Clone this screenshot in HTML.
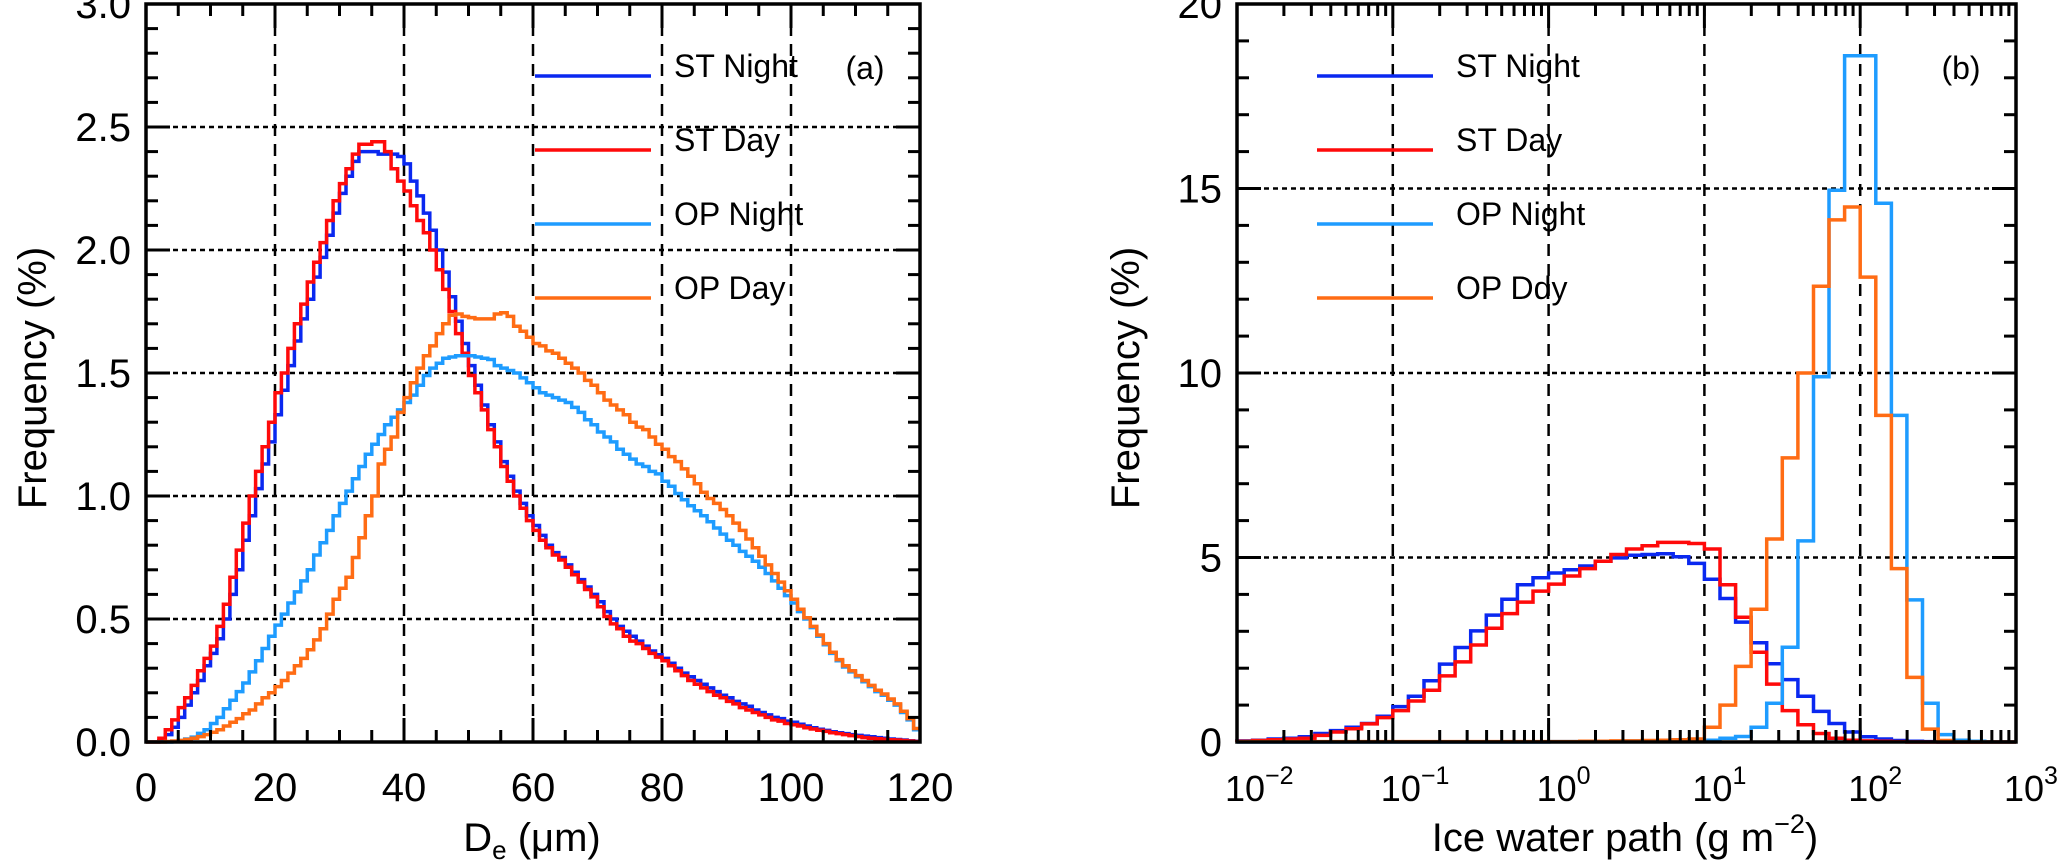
<!DOCTYPE html>
<html><head><meta charset="utf-8"><style>
html,body{margin:0;padding:0;background:#fff;}
svg{display:block;font-family:"Liberation Sans",sans-serif;}
</style></head><body>
<svg id="fig" width="2067" height="863" viewBox="0 0 2067 863" xmlns="http://www.w3.org/2000/svg"></svg>
<script>
// ---------- data: panel (a) D_e histograms, 1 um bins from 0 to 120 ----------
const deBinStart = 0, deBinWidth = 1;
const deSTNight = [0,0,0.005,0.03,0.06,0.1,0.15,0.2,0.25,0.31,0.36,0.42,0.5,0.6,0.7,0.82,0.92,1.03,1.13,1.22,1.33,1.43,1.53,1.63,1.72,1.8,1.89,1.97,2.06,2.15,2.23,2.3,2.36,2.40,2.40,2.40,2.39,2.39,2.39,2.38,2.35,2.28,2.22,2.15,2.08,2.0,1.91,1.81,1.71,1.62,1.53,1.45,1.37,1.29,1.22,1.14,1.08,1.02,0.97,0.92,0.88,0.84,0.8,0.77,0.75,0.72,0.69,0.66,0.63,0.6,0.57,0.53,0.5,0.47,0.45,0.43,0.41,0.39,0.37,0.355,0.34,0.32,0.30,0.28,0.265,0.25,0.235,0.22,0.205,0.19,0.18,0.165,0.155,0.145,0.13,0.12,0.11,0.1,0.095,0.085,0.08,0.072,0.065,0.058,0.052,0.047,0.042,0.038,0.034,0.03,0.027,0.024,0.021,0.018,0.015,0.012,0.01,0.008,0.005,0.003];
const deSTDay = [0,0,0.015,0.05,0.09,0.14,0.18,0.23,0.29,0.34,0.39,0.47,0.56,0.67,0.78,0.89,1.0,1.1,1.2,1.3,1.42,1.5,1.6,1.7,1.78,1.87,1.95,2.03,2.12,2.2,2.27,2.33,2.39,2.43,2.43,2.44,2.44,2.4,2.33,2.28,2.24,2.18,2.12,2.07,2.0,1.92,1.84,1.75,1.66,1.58,1.49,1.42,1.35,1.27,1.2,1.12,1.06,1.0,0.95,0.9,0.86,0.82,0.79,0.76,0.74,0.71,0.68,0.65,0.62,0.59,0.55,0.51,0.48,0.46,0.43,0.41,0.40,0.38,0.36,0.345,0.33,0.31,0.29,0.27,0.25,0.235,0.22,0.205,0.19,0.18,0.165,0.155,0.14,0.13,0.12,0.11,0.10,0.09,0.085,0.075,0.07,0.065,0.058,0.053,0.048,0.043,0.038,0.034,0.03,0.026,0.022,0.018,0.015,0.013,0.011,0.009,0.008,0.006,0.004,0.002];
const deOPNight = [0,0,0,0,0.003,0.006,0.012,0.02,0.035,0.05,0.075,0.1,0.135,0.17,0.205,0.24,0.285,0.33,0.38,0.43,0.475,0.52,0.565,0.61,0.655,0.7,0.76,0.81,0.86,0.92,0.97,1.02,1.07,1.12,1.17,1.21,1.25,1.29,1.32,1.35,1.38,1.41,1.45,1.49,1.52,1.54,1.56,1.565,1.57,1.57,1.57,1.565,1.56,1.555,1.53,1.52,1.51,1.5,1.48,1.46,1.44,1.42,1.41,1.40,1.39,1.38,1.36,1.34,1.31,1.29,1.26,1.24,1.22,1.19,1.17,1.15,1.13,1.12,1.1,1.09,1.06,1.04,1.01,0.985,0.96,0.94,0.92,0.895,0.87,0.845,0.82,0.8,0.775,0.755,0.735,0.71,0.685,0.655,0.625,0.595,0.565,0.53,0.5,0.465,0.43,0.395,0.36,0.33,0.305,0.285,0.265,0.245,0.225,0.205,0.19,0.17,0.15,0.12,0.09,0.05];
const deOPDay = [0,0,0,0.002,0.004,0.006,0.01,0.015,0.022,0.03,0.04,0.05,0.065,0.08,0.095,0.115,0.13,0.155,0.18,0.2,0.225,0.25,0.28,0.31,0.34,0.375,0.415,0.46,0.52,0.58,0.625,0.67,0.75,0.83,0.92,1.0,1.13,1.19,1.24,1.34,1.4,1.46,1.52,1.57,1.61,1.66,1.7,1.735,1.74,1.73,1.725,1.72,1.72,1.72,1.74,1.745,1.73,1.69,1.67,1.645,1.62,1.61,1.59,1.58,1.56,1.54,1.52,1.5,1.47,1.45,1.42,1.39,1.37,1.35,1.33,1.3,1.28,1.27,1.24,1.21,1.19,1.16,1.14,1.11,1.08,1.05,1.015,0.99,0.97,0.945,0.92,0.89,0.86,0.825,0.79,0.755,0.72,0.685,0.65,0.615,0.58,0.54,0.505,0.47,0.435,0.4,0.365,0.335,0.31,0.29,0.27,0.25,0.23,0.21,0.195,0.175,0.155,0.125,0.095,0.055];
const deXTicks = [0,20,40,60,80,100,120];
const deYTicks = ["0.0","0.5","1.0","1.5","2.0","2.5","3.0"];

// ---------- data: panel (b) IWP histograms, 0.1-decade bins from 10^-2 ----------
const iwpLogStart = -2, iwpLogStep = 0.1;
const iwpSTNight = [0.03,0.05,0.08,0.1,0.14,0.23,0.31,0.4,0.5,0.7,0.96,1.24,1.66,2.11,2.56,3.01,3.44,3.87,4.26,4.45,4.58,4.67,4.77,4.9,4.99,5.06,5.08,5.1,5.02,4.84,4.41,3.89,3.25,2.69,2.12,1.69,1.24,0.83,0.5,0.27,0.14,0.08,0.04,0.02,0.01,0,0,0,0,0];
const iwpSTDay = [0.02,0.04,0.06,0.08,0.1,0.18,0.27,0.36,0.49,0.66,0.85,1.11,1.4,1.79,2.17,2.63,3.08,3.48,3.79,4.09,4.28,4.5,4.7,4.9,5.08,5.23,5.32,5.41,5.41,5.38,5.23,4.26,3.38,2.43,1.57,0.85,0.47,0.23,0.1,0.05,0.03,0.02,0.01,0,0,0,0,0,0,0];
const iwpOPNight = [0,0,0,0,0,0,0,0,0,0,0,0,0,0,0,0,0,0,0,0,0.01,0.01,0.01,0.02,0.02,0.03,0.03,0.04,0.05,0.05,0.05,0.1,0.15,0.4,1.05,2.57,5.45,9.9,14.95,18.6,18.6,14.6,8.85,3.85,1.05,0.2,0.05,0.02,0,0];
const iwpOPDay = [0.01,0.01,0.01,0.01,0.01,0.01,0.01,0.01,0.01,0.01,0.01,0.01,0.01,0.01,0.01,0.01,0.01,0.01,0.01,0.01,0.01,0.01,0.02,0.02,0.03,0.03,0.04,0.05,0.06,0.08,0.4,1.0,2.05,3.6,5.5,7.7,10.0,12.35,14.15,14.5,12.6,8.85,4.7,1.75,0.35,0.04,0,0,0,0];
const iwpXExp = ["-2","-1","0","1","2","3"];
const iwpYTicks = ["0","5","10","15","20"];

const seriesNames = ["ST Night","ST Day","OP Night","OP Day"];
const seriesColors = ["#0a28f0","#ff0a0a","#1e9cff","#ff6c14"];

// ---------- helpers ----------
const NS = "http://www.w3.org/2000/svg";
const svg = document.getElementById('fig');
function mk(tag, attrs, parent){
  const e = document.createElementNS(NS, tag);
  for (const k in attrs) e.setAttribute(k, attrs[k]);
  (parent || svg).appendChild(e);
  return e;
}
const TOP = 4, BOT = 742;

// panel a axes
const ax = {x0:146, x1:920};
const xa = v => ax.x0 + (v - 0) / 120 * (ax.x1 - ax.x0);
const ya = v => BOT - v / 3 * (BOT - TOP);
// panel b axes
const bx = {x0:1237, x1:2016};
const xb = lg => bx.x0 + (lg + 2) / 5 * (bx.x1 - bx.x0);
const yb = v => BOT - v / 20 * (BOT - TOP);

function stepPath(vals, edge, yf){
  let d = "M" + edge(0).toFixed(1) + "," + yf(0).toFixed(1);
  for (let i = 0; i < vals.length; i++){
    d += "L" + edge(i).toFixed(1) + "," + yf(vals[i]).toFixed(1);
    d += "L" + edge(i+1).toFixed(1) + "," + yf(vals[i]).toFixed(1);
  }
  return d;
}

// ===== Panel A =====
const gA = mk('g', {});


// gridlines
[20,40,60,80,100].forEach(v => {
  const l = mk('line', {x1:xa(v), x2:xa(v), y1:TOP, y2:BOT, stroke:'#000', 'stroke-width':2.5, 'stroke-dasharray':'12,8'}, gA);
  
  
});
[0.5,1,1.5,2,2.5].forEach(v => {
  const l = mk('line', {x1:ax.x0, x2:ax.x1, y1:ya(v), y2:ya(v), stroke:'#000', 'stroke-width':2.5, 'stroke-dasharray':'5,4'}, gA);
  
  
});
// series
const deSeries = [deSTNight, deSTDay, deOPNight, deOPDay];
deSeries.forEach((vals, k) => {
  const p = mk('path', {d: stepPath(vals, i => xa(deBinStart + i*deBinWidth), ya), fill:'none', stroke:seriesColors[k], 'stroke-width':3.5, 'stroke-linejoin':'miter'}, gA);
  
  
});
// frame
const fA = mk('rect', {x:ax.x0, y:TOP, width:ax.x1-ax.x0, height:BOT-TOP, fill:'none', stroke:'#000', 'stroke-width':3.5}, gA);


// ticks
for (let v = 0; v <= 120; v += 5){
  const L = (v % 20 === 0) ? 24 : 12;
  mk('line', {x1:xa(v), x2:xa(v), y1:BOT, y2:BOT-L, stroke:'#000', 'stroke-width':3}, gA);
  mk('line', {x1:xa(v), x2:xa(v), y1:TOP, y2:TOP+L, stroke:'#000', 'stroke-width':3}, gA);
}
for (let i = 0; i <= 30; i++){
  const v = i/10, L = (i % 5 === 0) ? 24 : 12;
  mk('line', {x1:ax.x0, x2:ax.x0+L, y1:ya(v), y2:ya(v), stroke:'#000', 'stroke-width':3}, gA);
  mk('line', {x1:ax.x1, x2:ax.x1-L, y1:ya(v), y2:ya(v), stroke:'#000', 'stroke-width':3}, gA);
}
deXTicks.forEach(v => {
  const t = mk('text', {x:xa(v), y:801, 'font-size':40, 'text-anchor':'middle'}, gA);
  t.textContent = String(v);
  
  
});
deYTicks.forEach(s => {
  const t = mk('text', {x:131, y:ya(parseFloat(s))+14, 'font-size':40, 'text-anchor':'end'}, gA);
  t.textContent = s;
  
  
});
// titles
const xtA = mk('text', {x:532, y:851, 'font-size':40, 'text-anchor':'middle'}, gA);
xtA.innerHTML = 'D<tspan font-size="26" dy="8">e</tspan><tspan dy="-8"> (μm)</tspan>';


const ytA = mk('text', {x:0, y:0, 'font-size':40, 'text-anchor':'middle', transform:'translate(46,378) rotate(-90)'}, gA);
ytA.textContent = 'Frequency (%)';


const lblA = mk('text', {x:865, y:79, 'font-size':32, 'text-anchor':'middle'}, gA);
lblA.textContent = '(a)';


// legend
const legYs = [76,150,224,298];
seriesNames.forEach((n, k) => {
  const g = mk('g', {}, gA);
  
  
  mk('line', {x1:535, x2:651, y1:legYs[k], y2:legYs[k], stroke:seriesColors[k], 'stroke-width':3.5}, g);
  const t = mk('text', {x:674, y:legYs[k]+1, 'font-size':32}, g);
  t.textContent = n;
});

// ===== Panel B =====
const gB = mk('g', {});


[-1,0,1,2].forEach(lg => {
  const l = mk('line', {x1:xb(lg), x2:xb(lg), y1:TOP, y2:BOT, stroke:'#000', 'stroke-width':2.5, 'stroke-dasharray':'12,8'}, gB);
  
  
});
[5,10,15].forEach(v => {
  const l = mk('line', {x1:bx.x0, x2:bx.x1, y1:yb(v), y2:yb(v), stroke:'#000', 'stroke-width':2.5, 'stroke-dasharray':'5,4'}, gB);
  
  
});
const iwpSeries = [iwpSTNight, iwpSTDay, iwpOPNight, iwpOPDay];
iwpSeries.forEach((vals, k) => {
  const p = mk('path', {d: stepPath(vals, i => xb(iwpLogStart + i*iwpLogStep), yb), fill:'none', stroke:seriesColors[k], 'stroke-width':3.5}, gB);
  
  
});
const fB = mk('rect', {x:bx.x0, y:TOP, width:bx.x1-bx.x0, height:BOT-TOP, fill:'none', stroke:'#000', 'stroke-width':3.5}, gB);


for (let d = -2; d <= 3; d++){
  for (let m = 1; m <= 9; m++){
    if (d === 3 && m > 1) break;
    const lg = d + Math.log10(m), L = (m === 1) ? 24 : 12;
    mk('line', {x1:xb(lg), x2:xb(lg), y1:BOT, y2:BOT-L, stroke:'#000', 'stroke-width':3}, gB);
    mk('line', {x1:xb(lg), x2:xb(lg), y1:TOP, y2:TOP+L, stroke:'#000', 'stroke-width':3}, gB);
  }
}
for (let v = 0; v <= 20; v++){
  const L = (v % 5 === 0) ? 24 : 12;
  mk('line', {x1:bx.x0, x2:bx.x0+L, y1:yb(v), y2:yb(v), stroke:'#000', 'stroke-width':3}, gB);
  mk('line', {x1:bx.x1, x2:bx.x1-L, y1:yb(v), y2:yb(v), stroke:'#000', 'stroke-width':3}, gB);
}
iwpXExp.forEach(e => {
  const t = mk('text', {x:xb(parseFloat(e))-12, y:801, 'font-size':36}, gB);
  t.innerHTML = '10<tspan font-size="25" dy="-17">' + e.replace('-', '−') + '</tspan>';
  
  
});
iwpYTicks.forEach(s => {
  const t = mk('text', {x:1222, y:yb(parseFloat(s))+14, 'font-size':40, 'text-anchor':'end'}, gB);
  t.textContent = s;
  
  
});
const xtB = mk('text', {x:1625, y:851, 'font-size':40, 'text-anchor':'middle'}, gB);
xtB.innerHTML = 'Ice water path (g m<tspan font-size="27" dy="-18">−2</tspan><tspan dy="18">)</tspan>';


const ytB = mk('text', {x:0, y:0, 'font-size':40, 'text-anchor':'middle', transform:'translate(1139,378) rotate(-90)'}, gB);
ytB.textContent = 'Frequency (%)';


const lblB = mk('text', {x:1961, y:79, 'font-size':32, 'text-anchor':'middle'}, gB);
lblB.textContent = '(b)';


seriesNames.forEach((n, k) => {
  const g = mk('g', {}, gB);
  
  
  mk('line', {x1:1317, x2:1433, y1:legYs[k], y2:legYs[k], stroke:seriesColors[k], 'stroke-width':3.5}, g);
  const t = mk('text', {x:1456, y:legYs[k]+1, 'font-size':32}, g);
  t.textContent = (k === 3) ? 'OP Ddy' : n;
});
</script>
</body></html>
